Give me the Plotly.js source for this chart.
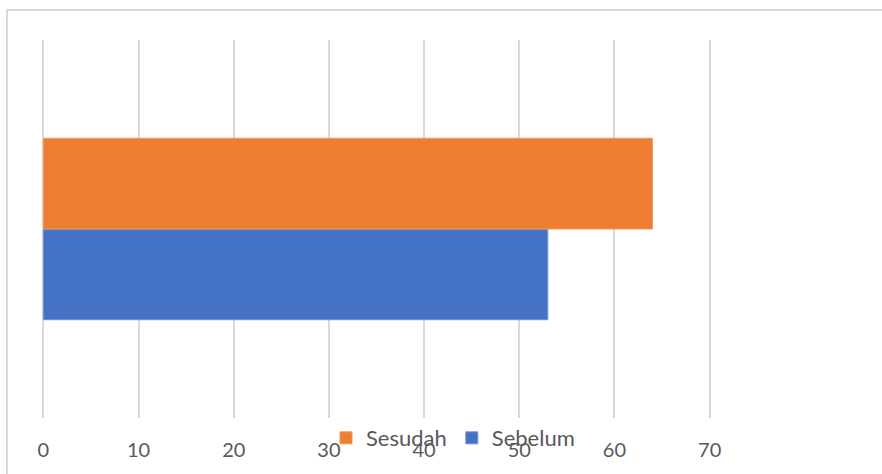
<!DOCTYPE html>
<html>
<head>
<meta charset="utf-8">
<script src="https://cdn.plot.ly/plotly-3.0.1.min.js"></script>
<style>
  html, body { margin: 0; padding: 0; background: #ffffff; }
  #frame {
    position: absolute; left: 6px; top: 9px; width: 900px; height: 500px;
    border-left: 2px solid #d9d9d9; border-top: 2px solid #d9d9d9;
  }
  #chart { position: absolute; left: 0; top: 0; width: 882px; height: 474px; }
</style>
</head>
<body>
<div id="frame"></div>
<div id="chart"></div>
<script>
// One group, two series: before and after
const categories = ['Nilai'];
const sebelum = [53];
const sesudah = [64];
const tickValues = [0, 10, 20, 30, 40, 50, 60, 70];

const traces = [
  {
    type: 'bar', orientation: 'h', name: 'Sebelum',
    y: categories, x: sebelum,
    marker: { color: '#4472C4', line: { color: '#6f93d3', width: 1 } },
    hoverinfo: 'x+name'
  },
  {
    type: 'bar', orientation: 'h', name: 'Sesudah',
    y: categories, x: sesudah,
    marker: { color: '#ED7D31', line: { color: '#f1985c', width: 1 } },
    hoverinfo: 'x+name'
  }
];

// range padded a little so the 0 and 70 gridlines stay inside the plot area
const layout = {
  width: 882, height: 474,
  margin: { l: 40.9, r: 170.3, t: 40, b: 56, pad: 0 },
  paper_bgcolor: 'rgba(0,0,0,0)',
  plot_bgcolor: 'rgba(0,0,0,0)',
  barmode: 'group',
  bargap: 0.52,
  bargroupgap: 0,
  font: { family: 'Lato, "Open Sans", sans-serif', color: '#595959', size: 20 },
  xaxis: {
    range: [-0.25, 70.25],
    tickvals: tickValues,
    ticktext: tickValues.map(String),
    showgrid: true, gridcolor: '#d9d9d9', gridwidth: 2,
    zeroline: true, zerolinecolor: '#d9d9d9', zerolinewidth: 2,
    showline: false, ticks: '',
    ticklabelstandoff: 18,
    tickfont: { size: 20, color: '#595959' },
    fixedrange: true
  },
  yaxis: {
    showticklabels: false, showgrid: false, zeroline: false, showline: false, ticks: '',
    fixedrange: true
  },
  showlegend: true,
  legend: {
    orientation: 'h', traceorder: 'reversed',
    x: 0.614, xanchor: 'center', y: -0.053, yanchor: 'middle',
    font: { size: 22, color: '#595959' },
    bgcolor: 'rgba(0,0,0,0)', itemwidth: 30
  }
};

Plotly.newPlot('chart', traces, layout, { staticPlot: true, displayModeBar: false });
</script>
</body>
</html>
